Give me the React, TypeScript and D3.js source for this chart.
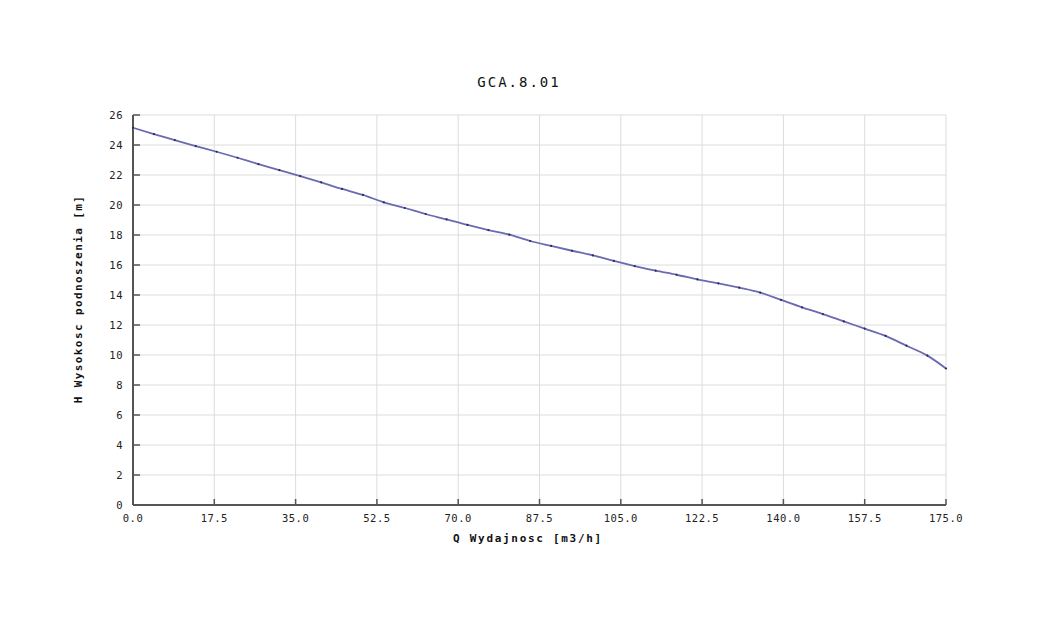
import React from "react";
import * as d3 from "d3";

const title = "GCA.8.01";
const xLabel = "Q Wydajnosc [m3/h]";
const yLabel = "H Wysokosc podnoszenia [m]";
const xTicks = [0, 17.5, 35, 52.5, 70, 87.5, 105, 122.5, 140, 157.5, 175];
const yTicks = [0, 2, 4, 6, 8, 10, 12, 14, 16, 18, 20, 22, 24, 26];
const qValues = [
  0, 4.5, 9, 13.5, 18, 22.5, 27, 31.5, 36, 40.5, 45, 49.5, 54, 58.5, 63, 67.5, 72, 76.5, 81, 85.5,
  90, 94.5, 99, 103.5, 108, 112.5, 117, 121.5, 126, 130.5, 135, 139.5, 144, 148.5, 153, 157.5, 162,
  166.5, 171, 175,
];
const hValues = [
  25.15, 24.73, 24.33, 23.93, 23.55, 23.15, 22.73, 22.33, 21.93, 21.51, 21.07, 20.67, 20.18, 19.8,
  19.4, 19.04, 18.67, 18.33, 18.02, 17.6, 17.27, 16.95, 16.64, 16.27, 15.93, 15.62, 15.35, 15.04,
  14.78, 14.49, 14.16, 13.67, 13.18, 12.73, 12.24, 11.76, 11.27, 10.62, 9.96, 9.1,
];

const W = 1054;
const H = 627;
const left = 133;
const right = 946;
const top = 115;
const bottom = 505;
const mono = "'DejaVu Sans Mono', 'Liberation Mono', monospace";

export default function App() {
  const x = d3.scaleLinear().domain([0, 175]).range([left, right]);
  const y = d3.scaleLinear().domain([0, 26]).range([bottom, top]);
  const pts = qValues.map((q, i) => [x(q), y(hValues[i])] as [number, number]);
  const line = d3.line().curve(d3.curveMonotoneX)(pts) || "";
  const axisColor = "#555";
  const gridColor = "#dcdcdc";
  return (
    <div style={{ position: "absolute", left: 0, top: 0 }}>
      <svg width={W} height={H} style={{ display: "block", background: "#fff" }}>
        {yTicks.map((t) => (
          <line key={"gy" + t} x1={left} x2={right} y1={y(t)} y2={y(t)} stroke={gridColor} strokeWidth={1} />
        ))}
        {xTicks.map((t) => (
          <line key={"gx" + t} x1={x(t)} x2={x(t)} y1={top} y2={bottom} stroke={gridColor} strokeWidth={1} />
        ))}
        {yTicks.map((t) => (
          <g key={"ty" + t}>
            <line x1={left} x2={left + 7} y1={y(t)} y2={y(t)} stroke={axisColor} strokeWidth={1.5} />
            <text x={123} y={y(t) + 4} textAnchor="end" fontFamily={mono} fontSize={10.5} letterSpacing={0.5} fill="#222">
              {t}
            </text>
          </g>
        ))}
        {xTicks.map((t) => (
          <g key={"tx" + t}>
            <line x1={x(t)} x2={x(t)} y1={bottom} y2={bottom - 6} stroke={axisColor} strokeWidth={1.5} />
            <text x={x(t)} y={522} textAnchor="middle" fontFamily={mono} fontSize={10.5} letterSpacing={0.5} fill="#222">
              {t.toFixed(1)}
            </text>
          </g>
        ))}
        <line x1={left} x2={left} y1={top} y2={bottom} stroke={axisColor} strokeWidth={2} />
        <line x1={left} x2={right} y1={bottom} y2={bottom} stroke={axisColor} strokeWidth={2} />
        <path d={line} fill="none" stroke="#6a6ab2" strokeWidth={1.8} />
        {pts.map((p, i) => (
          <circle key={"p" + i} cx={p[0]} cy={p[1]} r={1.1} fill="#2a2a5a" />
        ))}
        <text x={519} y={87} textAnchor="middle" fontFamily={mono} fontSize={14} letterSpacing={2} fill="#111">
          {title}
        </text>
        <text x={528} y={542} textAnchor="middle" fontFamily={mono} fontSize={11} fontWeight="bold" letterSpacing={1.7} fill="#111">
          {xLabel}
        </text>
        <text
          transform={`translate(82,${299}) rotate(-90)`}
          textAnchor="middle"
          fontFamily={mono}
          fontSize={11}
          fontWeight="bold"
          letterSpacing={1.4}
          fill="#111"
        >
          {yLabel}
        </text>
      </svg>
    </div>
  );
}
